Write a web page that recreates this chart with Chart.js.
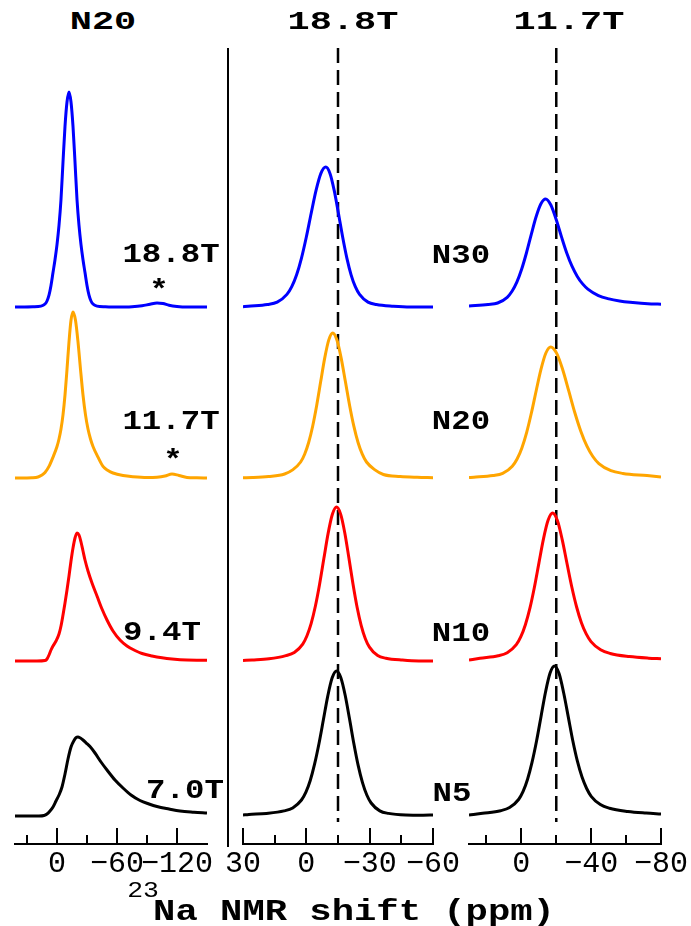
<!DOCTYPE html>
<html>
<head>
<meta charset="utf-8">
<script src="https://cdn.jsdelivr.net/npm/chart.js@4.4.0/dist/chart.umd.min.js"></script>
<style>
  body { margin: 0; background: #fff; }
  #page { position: relative; width: 691px; height: 926px; overflow: hidden; font-family: "Liberation Mono", monospace; }
  .panel { position: absolute; top: 48px; }
  .txt { position: absolute; line-height: 1; white-space: nowrap; color: #000; }
  #sep { position: absolute; left: 227px; top: 48px; width: 2px; height: 799px; background: #000; }
</style>
</head>
<body>
<div id="page">
  <div class="panel" style="left:0px"><canvas id="c1" width="237" height="856"></canvas></div>
  <div class="panel" style="left:218px"><canvas id="c2" width="245" height="856"></canvas></div>
  <div class="panel" style="left:444px"><canvas id="c3" width="247" height="856"></canvas></div>
  <div id="sep"></div>
</div>
<script>
// 各谱线: [化学位移 ppm, 强度]，从上到下: 蓝 / 橙 / 红 / 黑
const fieldLabels = ['18.8T', '11.7T', '9.4T', '7.0T'];
const sampleLabels = ['N30', 'N20', 'N10', 'N5'];
const lineColors = ['#0000ff', '#ffa500', '#ff0000', '#000000'];
const stackOffsets = [537, 366, 183, 28];

// N20 在不同磁场下
const n20Blue = [[42,0],[24,0.3],[16,0.9],[12,3],[10,6],[8,11.8],[6,21.5],[4,34.4],[2,47.3],[0,62.4],[-2,81.7],[-4,107.5],[-6,145],[-8,180.6],[-10,205],[-12,215],[-14,205],[-16,180.6],[-18,145],[-20,107.5],[-22,81.7],[-24,62.4],[-26,47.3],[-28,34.4],[-30,21.5],[-32,11.8],[-34,6],[-36,3],[-40,0.9],[-48,0.3],[-60,0],[-75,0.3],[-85,1.2],[-93,2.8],[-100,4],[-106,3.4],[-112,1.8],[-120,0.6],[-130,0],[-150,0]];
const n20Orange = [[42,0],[25,0.3],[19,1],[15,3],[12,5.5],[8,11.6],[4,20.8],[0,31.5],[-2,39],[-4,49],[-6,63.1],[-8,83],[-10,108.7],[-12,136.1],[-14,157.7],[-16,166],[-18.5,157.7],[-21,136.1],[-23.5,108.7],[-26,83],[-28.5,63.1],[-31,49],[-33.5,39],[-36,31.5],[-41,20.8],[-46,11.6],[-51,7.5],[-56,5],[-66,2.5],[-76,1.3],[-90,0.5],[-100,0.8],[-108,2],[-115,4],[-122,2.5],[-130,0.6],[-140,0.2],[-150,0]];
const n20Red = [[42,0],[20,0],[12,0.5],[10,2],[8,6],[6,11],[4,15],[1,20],[-2,27],[-4,35],[-6,46],[-8,58],[-10,71],[-12,85],[-14,100],[-16,113],[-18,123],[-20,128],[-22,126],[-24,119],[-26,110],[-28,101],[-31,90],[-35,78],[-40,65],[-45,52],[-50,41],[-56,30],[-63,21],[-70,15],[-78,10.5],[-85,7.5],[-95,5],[-105,3.2],[-115,2],[-130,1],[-150,0.8]];
const n20Black = [[42,0],[18,0],[13,0.5],[10,2],[7,5],[4,9],[1,15],[-2,21],[-5,29],[-8,42],[-11,57],[-14,69],[-17,75.5],[-19,78.3],[-21,79],[-23,78.2],[-26,76],[-29,73.2],[-33,69.4],[-38,63],[-44,54],[-50,46],[-58,36],[-66,28],[-74,21],[-83,15.5],[-92,12],[-100,9.5],[-112,7],[-123,5],[-137,3.8],[-150,3]];

// 18.8T 下不同样品
const t188Blue = [[30,0.3],[27.6,0.8],[18.4,2.5],[13.8,4.9],[9.2,12.6],[6.9,20.3],[4.6,32.2],[2.3,48.9],[0,70],[-2.3,93.8],[-4.6,116.6],[-6.9,133.6],[-9.2,140],[-11.2,133.6],[-13.2,116.6],[-15.2,93.8],[-17.2,70],[-19.2,48.9],[-21.2,32.2],[-23.2,20.3],[-25.2,12.6],[-29.2,4.9],[-33.2,2.5],[-41.2,0.8],[-49.2,0],[-60,0]];
const t188Orange = [[30,0.3],[25.5,0.5],[17.9,1.5],[10.3,4],[6.5,8.1],[2.7,16],[0.8,23.8],[-1.1,35.5],[-3,51.8],[-4.9,72.5],[-6.8,96.4],[-8.7,119.9],[-10.6,137.9],[-12.5,145],[-14.5,137.9],[-16.5,119.9],[-18.5,96.4],[-20.5,72.5],[-22.5,51.8],[-24.5,35.5],[-26.5,23.8],[-28.5,16],[-32.5,8.1],[-36.5,3.5],[-44.5,1.5],[-52.5,0.7],[-60,0.3]];
const t188Red = [[30,0.5],[25.7,1],[17.7,2.2],[9.7,5.4],[5.7,8.6],[1.7,16.9],[-0.3,25.3],[-2.3,37.7],[-4.3,55],[-6.3,77],[-8.3,102.4],[-10.3,127.4],[-12.3,146.5],[-14.3,154],[-16.25,146.9],[-18.2,128.3],[-20.15,103.2],[-22.1,77],[-24.05,53.7],[-26,35.4],[-27.95,22.3],[-29.9,13.9],[-33.8,5.4],[-37.7,2.8],[-45.5,0.9],[-53.3,0],[-60,0]];
const t188Black = [[30,1],[27.2,1.5],[18.9,2.6],[10.6,5.1],[6.45,8.1],[2.3,16],[0.2,23.8],[-1.85,35.5],[-3.9,51.8],[-6,72.5],[-8.1,96.4],[-10.15,119.9],[-12.2,137.9],[-14.3,145],[-16.35,138.3],[-18.4,120.8],[-20.45,97.2],[-22.5,72.5],[-24.55,50.6],[-26.6,33.4],[-28.65,21],[-30.7,13],[-34.8,5.1],[-38.9,2.6],[-47.1,1],[-55.3,0.8],[-60,1]];

// 11.7T 下不同样品
const t117Blue = [[30,1],[19.1,2.5],[13.6,4],[8.1,9.7],[5.35,15.7],[2.6,24.8],[-0.15,37.7],[-2.9,54],[-5.65,72.4],[-8.4,90],[-11.15,103],[-13.9,108],[-16.9,102],[-19.95,87.5],[-23,70.1],[-26,54],[-29,40.8],[-32.05,30.6],[-35.1,23.1],[-38.1,17.9],[-44.15,11.4],[-50.2,8.1],[-56.25,6.1],[-62.3,4.8],[-74.4,3.1],[-80,2.8]];
const t117Orange = [[30,0.5],[27.2,0.8],[16.2,2.4],[10.7,4.6],[5.2,11.8],[2.45,19],[-0.3,30.1],[-3.05,45.7],[-5.8,65.5],[-8.55,87.8],[-11.3,109.1],[-14.05,125],[-16.8,131],[-20.25,124.6],[-23.7,108.3],[-27.15,87.1],[-30.6,65.5],[-34.05,46.8],[-37.5,32.1],[-40.95,21.5],[-44.4,14.4],[-51.3,7.3],[-58.2,4.6],[-72,2.4],[-80,1]];
const t117Red = [[30,1],[23.7,2.7],[13.3,5.2],[8.1,8.3],[2.9,16.3],[0.3,24.3],[-2.3,36.3],[-4.9,52.8],[-7.5,74],[-10.1,98.4],[-12.7,122.4],[-15.3,140.7],[-17.9,148],[-20.65,140.5],[-23.4,121.4],[-26.15,97.5],[-28.9,74],[-31.65,54],[-34.4,38.3],[-37.15,27.1],[-39.9,19.4],[-45.4,11.2],[-50.9,7.5],[-61.9,4.4],[-72.9,2.8],[-80,2.2]];
const t117Black = [[30,1],[22.2,2.7],[11.9,5.3],[6.75,8.4],[1.6,16.5],[-1,24.6],[-3.55,36.8],[-6.1,53.6],[-8.7,75],[-11.3,99.8],[-13.85,124],[-16.4,142.7],[-19,150],[-21.6,142.4],[-24.25,123],[-26.9,98.9],[-29.5,75],[-32.1,54.8],[-34.75,38.9],[-37.4,27.5],[-40,19.7],[-45.25,11.4],[-50.5,7.7],[-61,4.5],[-71.5,2.9],[-80,2]];

// 坐标轴范围和刻度
const xRange1 = [-150, 42], majorTicks1 = [0, -60, -120], minorTicks1 = [30, -30, -90];
const xRange2 = [-60, 30], majorTicks2 = [30, 0, -30, -60], minorTicks2 = [15, -15, -45];
const xRange3 = [-80, 30], majorTicks3 = [0, -40, -80], minorTicks3 = [20, -20, -60];
const refShift2 = -15, refShift3 = -20;  // 虚线参考位置
const yTop = 796;

// 向上的刻度线（长短两种）
const tickMarks = {
    id: 'tickMarks',
    afterDraw(chart, args, opts) {
        const sc = chart.scales.x;
        const ctx = chart.ctx;
        ctx.save();
        ctx.strokeStyle = '#000';
        ctx.lineWidth = 2;
        const mark = (v, len) => {
            const px = Math.round(sc.getPixelForValue(v));
            ctx.beginPath();
            ctx.moveTo(px, sc.top);
            ctx.lineTo(px, sc.top - len);
            ctx.stroke();
        };
        opts.major.forEach(v => mark(v, 16));
        opts.minor.forEach(v => mark(v, 9));
        ctx.restore();
    }
};

function fmtTick(v) {
    return v < 0 ? '\u2212' + Math.abs(v) : String(v);
}

function makePanel(canvasId, spectra, range, majors, minors, refShift, padL, padR) {
    const datasets = spectra.map((pts, i) => ({
        data: pts.map(p => ({ x: p[0], y: p[1] + stackOffsets[i] })),
        borderColor: lineColors[i],
        borderWidth: 3,
        pointRadius: 0,
        cubicInterpolationMode: 'monotone',
        fill: false
    }));
    if (refShift !== null) {
        datasets.push({
            data: [{ x: refShift, y: yTop }, { x: refShift, y: 22 }],
            borderColor: '#000',
            borderWidth: 2.5,
            borderDash: [15, 7],
            pointRadius: 0
        });
    }
    new Chart(document.getElementById(canvasId), {
        type: 'line',
        data: { datasets: datasets },
        options: {
            responsive: false,
            animation: false,
            devicePixelRatio: 1,
            layout: { padding: { left: padL, right: padR, top: 0, bottom: 0 } },
            plugins: {
                legend: { display: false },
                tooltip: { enabled: false },
                tickMarks: { major: majors, minor: minors }
            },
            scales: {
                x: {
                    type: 'linear',
                    reverse: true,
                    min: range[0],
                    max: range[1],
                    grid: { display: false, drawTicks: false },
                    border: { display: true, color: '#000', width: 2 },
                    afterBuildTicks: (scale) => { scale.ticks = majors.map(v => ({ value: v })); },
                    afterFit: (scale) => { scale.height = 60; },
                    ticks: {
                        autoSkip: false,
                        maxRotation: 0,
                        minRotation: 0,
                        padding: 2,
                        color: '#000',
                        font: { family: '"Liberation Mono", monospace', size: 30 },
                        callback: (v) => fmtTick(v)
                    }
                },
                y: { display: false, min: 0, max: yTop }
            }
        },
        plugins: [tickMarks]
    });
}

function addText(str, cx, cy, size, sx, weight) {
    const el = document.createElement('div');
    el.className = 'txt';
    el.textContent = str;
    el.style.left = cx + 'px';
    el.style.top = cy + 'px';
    el.style.fontSize = size + 'px';
    el.style.fontWeight = weight;
    el.style.transform = 'translate(-50%, -50%) scaleX(' + sx + ')';
    document.getElementById('page').appendChild(el);
}

document.addEventListener('DOMContentLoaded', function() {
    makePanel('c1', [n20Blue, n20Orange, n20Red, n20Black], xRange1, majorTicks1, minorTicks1, null, 15, 30);
    makePanel('c2', [t188Blue, t188Orange, t188Red, t188Black], xRange2, majorTicks2, minorTicks2, refShift2, 25, 30);
    makePanel('c3', [t117Blue, t117Orange, t117Red, t117Black], xRange3, majorTicks3, minorTicks3, refShift3, 25, 30);

    // 面板标题
    addText('N20', 103, 22, 26, 1.42, 'bold');
    addText('18.8T', 343, 22, 26, 1.42, 'bold');
    addText('11.7T', 569, 22, 26, 1.42, 'bold');

    // 左侧磁场标注
    const fieldX = [171, 171, 161.5, 185];
    const fieldY = [255, 422, 633, 791];
    fieldLabels.forEach((t, i) => addText(t, fieldX[i], fieldY[i], 27, 1.2, 'bold'));
    addText('*', 159, 291, 27, 1.2, 'bold');
    addText('*', 173, 461, 27, 1.2, 'bold');

    // 样品标注
    const sampleX = [460.5, 460.5, 460.5, 451.5];
    const sampleY = [255.5, 422, 633.5, 793.5];
    sampleLabels.forEach((t, i) => addText(t, sampleX[i], sampleY[i], 27, 1.2, 'bold'));

    // x 轴标题
    addText('Na NMR shift (ppm)', 354, 912, 30, 1.24, 'bold');
    addText('23', 142.5, 892, 22, 1.2, 'normal');
});
</script>
</body>
</html>
